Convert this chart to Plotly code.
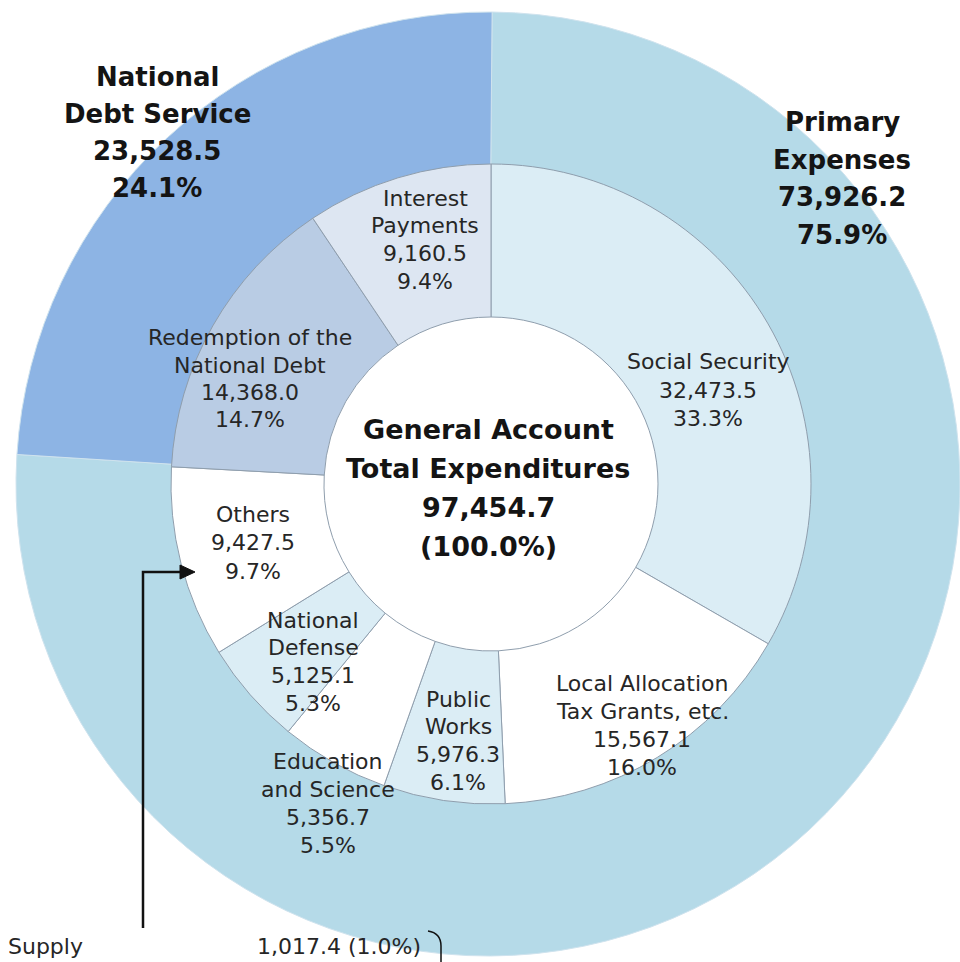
import plotly.graph_objects as go

# ---------------- data ----------------
total_value = 97454.7
total_pct = 100.0

groups = ["National Debt Service", "Primary Expenses"]
group_values = [23528.5, 73926.2]
group_pcts = [24.1, 75.9]

items = ["Social Security", "Local Allocation Tax Grants, etc.", "Public Works",
         "Education and Science", "National Defense", "Others",
         "Redemption of the National Debt", "Interest Payments"]
item_values = [32473.5, 15567.1, 5976.3, 5356.7, 5125.1, 9427.5, 14368.0, 9160.5]
item_pcts = [33.3, 16.0, 6.1, 5.5, 5.3, 9.7, 14.7, 9.4]
item_name_lines = [["Social Security"], ["Local Allocation", "Tax Grants, etc."],
                   ["Public", "Works"], ["Education", "and Science"],
                   ["National", "Defense"], ["Others"],
                   ["Redemption of the", "National Debt"], ["Interest", "Payments"]]
group_name_lines = [["National", "Debt Service"], ["Primary", "Expenses"]]

note_label = "Supply"
note_value = "1,017.4 (1.0%)"

# ---------------- styling ----------------
W, H = 960, 962
outer_colors = ["#8db4e4", "#b5dae8"]
inner_colors = ["#dbedf5", "#ffffff", "#dbedf5", "#ffffff", "#dbedf5", "#ffffff",
                "#b9cce4", "#dde6f2"]
FONT = "DejaVu Sans, Verdana, sans-serif"


def px(x):
    return x / W


def py(y):
    return 1 - y / H


def dom(cx, cy, r):
    return dict(x=[max(0, (cx - r) / W), min(1, (cx + r) / W)],
                y=[max(0, 1 - (cy + r) / H), min(1, 1 - (cy - r) / H)])


fig = go.Figure()

# outer ring: groups (Primary first clockwise from 12 o'clock)
fig.add_trace(go.Pie(
    labels=groups[::-1], values=group_values[::-1], sort=False, direction="clockwise",
    rotation=0.5, hole=0.55, domain=dom(488, 484, 472),
    marker=dict(colors=outer_colors[::-1], line=dict(color="#cfe3ee", width=1)),
    textinfo="none", hoverinfo="skip", showlegend=False))

# inner ring: items
fig.add_trace(go.Pie(
    labels=items, values=item_values, sort=False, direction="clockwise",
    hole=167 / 320, domain=dom(491, 484, 320),
    marker=dict(colors=inner_colors, line=dict(color="#8f9ead", width=1)),
    textinfo="none", hoverinfo="skip", showlegend=False))


def fmt(v):
    return f"{v:,.1f}"


annotations = []


def add_block(lines, cx, y0, step, size, bold=False, color="#262626"):
    for i, t in enumerate(lines):
        txt = f"<b>{t}</b>" if bold else t
        annotations.append(dict(
            x=px(cx), y=py(y0 + i * step), xref="paper", yref="paper",
            text=txt, showarrow=False, xanchor="center", yanchor="middle",
            font=dict(family=FONT, size=size, color=color)))


# group labels (bold)
grp_pos = [(157, 77, 37), (842, 122, 37.7)]
for g in range(len(groups)):
    lines = group_name_lines[g] + [fmt(group_values[g]), f"{group_pcts[g]:.1f}%"]
    cx, y0, st = grp_pos[g]
    add_block(lines, cx, y0, st, 26, bold=True, color="#141414")

# item labels
item_pos = [(708, 362, 28.3), (642, 683, 28), (458, 699, 27.7), (328, 761, 28.3),
            (313, 620, 27.7), (253, 514, 28.5), (250, 338, 27.3), (425, 198, 27.7)]
for k in range(len(items)):
    lines = item_name_lines[k] + [fmt(item_values[k]), f"{item_pcts[k]:.1f}%"]
    cx, y0, st = item_pos[k]
    add_block(lines, cx, y0, st, 22)

# centre label
add_block(["General Account", "Total Expenditures", fmt(total_value), f"({total_pct:.1f}%)"],
          488, 429, 39.3, 27, bold=True, color="#141414")

# bottom note
annotations.append(dict(x=px(6), y=py(946), xref="paper", yref="paper", text=note_label,
                        showarrow=False, xanchor="left", yanchor="middle",
                        font=dict(family=FONT, size=22, color="#262626")))
annotations.append(dict(x=px(255), y=py(946), xref="paper", yref="paper", text=note_value,
                        showarrow=False, xanchor="left", yanchor="middle",
                        font=dict(family=FONT, size=22, color="#262626")))

shapes = [
    # leader line from the note up to "Others"
    dict(type="path", xref="paper", yref="paper",
         path=f"M {px(143)},{py(928)} L {px(143)},{py(572)} L {px(182)},{py(572)}",
         line=dict(color="#111111", width=2.5)),
    dict(type="path", xref="paper", yref="paper",
         path=f"M {px(180)},{py(565)} L {px(195)},{py(572)} L {px(180)},{py(579)} Z",
         line=dict(color="#111111", width=1), fillcolor="#111111"),
    # bracket
    dict(type="path", xref="paper", yref="paper",
         path=f"M {px(428)},{py(931)} Q {px(441)},{py(933)} {px(441)},{py(946)} L {px(441)},{py(966)}",
         line=dict(color="#111111", width=1.5)),
]

fig.update_layout(
    width=W, height=H, autosize=False,
    margin=dict(l=0, r=0, t=0, b=0),
    paper_bgcolor="white", plot_bgcolor="white",
    annotations=annotations, shapes=shapes,
)

fig.write_html("out.html", config={"displayModeBar": False},
               post_script="document.body.style.margin='0';document.body.style.padding='0';"
                           "document.documentElement.style.overflow='hidden';")
